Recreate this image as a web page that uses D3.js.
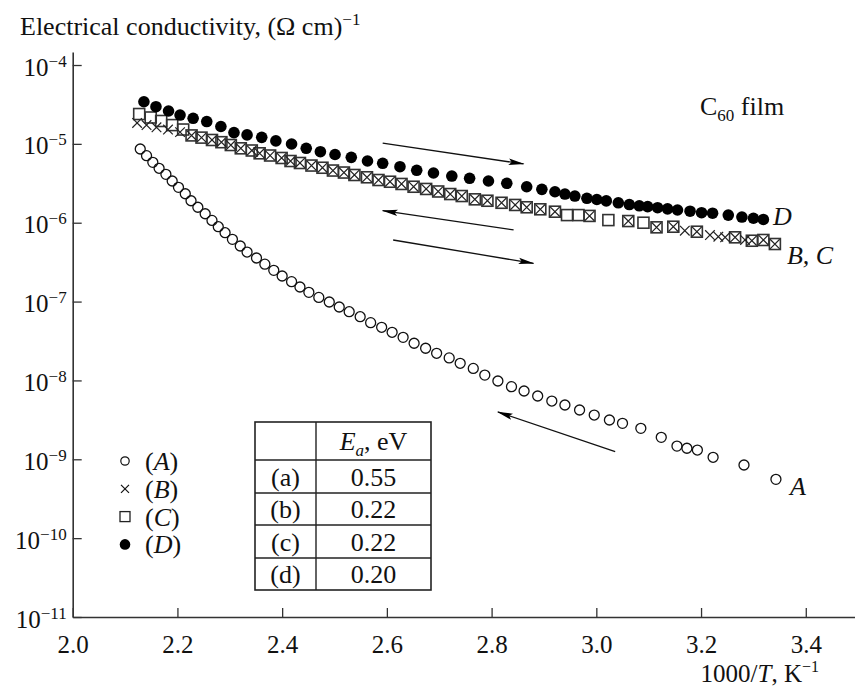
<!DOCTYPE html>
<html>
<head>
<meta charset="utf-8">
<script src="https://cdn.jsdelivr.net/npm/d3@7"></script>
<style>
  body { margin: 0; background: #fff; }
  svg { display: block; font-family: "Liberation Serif", "Times New Roman", serif; }
</style>
</head>
<body>
<div id="chart"></div>
<script>
// series: [1000/T, conductivity]
const seriesA = [
  [2.129, 8.61e-6], [2.141, 7.08e-6], [2.153, 5.83e-6], [2.165, 4.90e-6], [2.178, 4.11e-6],
  [2.190, 3.38e-6], [2.202, 2.81e-6], [2.215, 2.33e-6], [2.226, 1.90e-6], [2.239, 1.57e-6],
  [2.253, 1.30e-6], [2.266, 1.07e-6], [2.278, 8.90e-7], [2.291, 7.47e-7], [2.305, 6.16e-7],
  [2.320, 5.07e-7], [2.333, 4.25e-7], [2.351, 3.57e-7], [2.367, 2.98e-7], [2.384, 2.49e-7],
  [2.400, 2.11e-7], [2.418, 1.79e-7], [2.434, 1.53e-7], [2.451, 1.31e-7], [2.470, 1.13e-7],
  [2.490, 9.88e-8], [2.509, 8.54e-8], [2.528, 7.44e-8], [2.549, 6.43e-8], [2.569, 5.40e-8],
  [2.590, 4.72e-8], [2.610, 4.08e-8], [2.631, 3.52e-8], [2.652, 2.96e-8], [2.674, 2.56e-8],
  [2.695, 2.21e-8], [2.719, 1.93e-8], [2.740, 1.65e-8], [2.765, 1.42e-8], [2.787, 1.17e-8],
  [2.812, 9.84e-9], [2.838, 8.33e-9], [2.862, 7.34e-9], [2.888, 6.35e-9], [2.915, 5.48e-9],
  [2.940, 4.88e-9], [2.968, 4.22e-9], [2.996, 3.64e-9], [3.025, 3.15e-9], [3.050, 2.86e-9],
  [3.085, 2.47e-9], [3.124, 1.90e-9], [3.154, 1.47e-9], [3.173, 1.38e-9], [3.193, 1.31e-9],
  [3.223, 1.06e-9], [3.282, 8.47e-10], [3.343, 5.57e-10]
]
const seriesB = [
  [2.123, 1.84e-5], [2.141, 1.73e-5], [2.160, 1.62e-5], [2.182, 1.52e-5], [2.205, 1.41e-5],
  [2.227, 1.28e-5], [2.246, 1.20e-5], [2.266, 1.12e-5], [2.284, 1.05e-5], [2.302, 9.67e-6],
  [2.321, 8.78e-6], [2.342, 8.24e-6], [2.357, 7.59e-6], [2.377, 7.12e-6], [2.399, 6.62e-6],
  [2.416, 6.06e-6], [2.434, 5.72e-6], [2.456, 5.31e-6], [2.477, 4.98e-6], [2.497, 4.59e-6],
  [2.518, 4.33e-6], [2.538, 4.03e-6], [2.562, 3.77e-6], [2.584, 3.48e-6], [2.606, 3.31e-6],
  [2.628, 3.10e-6], [2.651, 2.86e-6], [2.675, 2.68e-6], [2.698, 2.49e-6], [2.721, 2.31e-6],
  [2.743, 2.18e-6], [2.768, 1.98e-6], [2.792, 1.90e-6], [2.819, 1.79e-6], [2.845, 1.68e-6],
  [2.867, 1.57e-6], [2.893, 1.48e-6], [2.921, 1.38e-6], [2.987, 1.22e-6], [3.061, 1.05e-6],
  [3.115, 8.74e-7], [3.147, 8.90e-7], [3.169, 7.92e-7], [3.192, 7.69e-7], [3.217, 6.98e-7],
  [3.233, 6.65e-7], [3.246, 6.53e-7], [3.265, 6.53e-7], [3.284, 6.04e-7], [3.297, 5.91e-7],
  [3.319, 6.04e-7], [3.341, 5.37e-7]
]
const seriesC = [
  [2.127, 2.39e-5], [2.149, 2.16e-5], [2.169, 1.95e-5], [2.190, 1.73e-5], [2.211, 1.52e-5],
  [2.227, 1.28e-5], [2.246, 1.20e-5], [2.266, 1.12e-5], [2.284, 1.05e-5], [2.302, 9.67e-6],
  [2.321, 8.78e-6], [2.342, 8.24e-6], [2.357, 7.59e-6], [2.377, 7.12e-6], [2.399, 6.62e-6],
  [2.416, 6.06e-6], [2.434, 5.72e-6], [2.456, 5.31e-6], [2.477, 4.98e-6], [2.497, 4.59e-6],
  [2.518, 4.33e-6], [2.538, 4.03e-6], [2.562, 3.77e-6], [2.584, 3.48e-6], [2.606, 3.31e-6],
  [2.628, 3.10e-6], [2.651, 2.86e-6], [2.675, 2.68e-6], [2.698, 2.49e-6], [2.721, 2.31e-6],
  [2.743, 2.18e-6], [2.768, 1.98e-6], [2.792, 1.90e-6], [2.819, 1.79e-6], [2.845, 1.68e-6],
  [2.867, 1.57e-6], [2.893, 1.48e-6], [2.921, 1.38e-6], [2.944, 1.25e-6], [2.966, 1.25e-6],
  [2.987, 1.22e-6], [3.023, 1.08e-6], [3.061, 1.05e-6], [3.090, 1.00e-6], [3.115, 8.74e-7],
  [3.147, 8.90e-7], [3.192, 7.69e-7], [3.265, 6.53e-7], [3.297, 5.91e-7], [3.319, 6.04e-7],
  [3.341, 5.37e-7]
]
const seriesD = [
  [2.136, 3.42e-5], [2.159, 2.96e-5], [2.183, 2.61e-5], [2.205, 2.32e-5], [2.230, 2.11e-5],
  [2.256, 1.92e-5], [2.283, 1.66e-5], [2.308, 1.39e-5], [2.333, 1.30e-5], [2.361, 1.21e-5],
  [2.388, 1.09e-5], [2.418, 9.96e-6], [2.446, 8.78e-6], [2.473, 7.95e-6], [2.501, 7.33e-6],
  [2.532, 6.75e-6], [2.563, 6.06e-6], [2.592, 5.67e-6], [2.625, 5.13e-6], [2.657, 4.62e-6],
  [2.689, 4.27e-6], [2.724, 3.91e-6], [2.758, 3.66e-6], [2.794, 3.38e-6], [2.829, 3.16e-6],
  [2.867, 2.86e-6], [2.896, 2.65e-6], [2.921, 2.47e-6], [2.940, 2.31e-6], [2.959, 2.18e-6],
  [2.982, 2.04e-6], [3.001, 1.97e-6], [3.019, 1.89e-6], [3.042, 1.79e-6], [3.063, 1.70e-6],
  [3.082, 1.64e-6], [3.098, 1.60e-6], [3.117, 1.55e-6], [3.136, 1.50e-6], [3.155, 1.45e-6],
  [3.179, 1.40e-6], [3.201, 1.34e-6], [3.222, 1.32e-6], [3.252, 1.25e-6], [3.278, 1.18e-6],
  [3.300, 1.14e-6], [3.319, 1.10e-6]
]

const xTicks = [2.0, 2.2, 2.4, 2.6, 2.8, 3.0, 3.2, 3.4]
const yExponents = [-4, -5, -6, -7, -8, -9, -10, -11]

const legendKeys = ['A', 'B', 'C', 'D']
const legendMarks = ['open', 'cross', 'square', 'filled']

const tableRows = ['(a)', '(b)', '(c)', '(d)']
const tableValues = ['0.55', '0.22', '0.22', '0.20']

// heating / cooling arrows in data units
const arrows = [
  { from: [2.592, 1.02e-5], to: [2.861, 5.56e-6] },
  { from: [2.842, 8.09e-7], to: [2.592, 1.42e-6] },
  { from: [2.612, 6.04e-7], to: [2.880, 3.05e-7] },
  { from: [3.036, 1.25e-9], to: [2.812, 3.98e-9] }
]

const width = 855
const height = 686

const x = d3.scaleLinear().domain([2.0, 3.494]).range([72.7, 855])
const y = d3.scaleLog().domain([1e-11, Math.pow(10, -3.835)]).range([617, 52])

const svg = d3.select('#chart')
  .append('svg')
  .attr('width', width)
  .attr('height', height)
  .attr('viewBox', `0 0 ${width} ${height}`)

const defs = svg.append('defs')
defs.append('marker')
  .attr('id', 'head')
  .attr('viewBox', '0 0 16 8')
  .attr('refX', 15)
  .attr('refY', 4)
  .attr('markerWidth', 16)
  .attr('markerHeight', 8)
  .attr('markerUnits', 'userSpaceOnUse')
  .attr('orient', 'auto')
  .append('path')
  .attr('d', 'M0,0.8 L16,4 L0,7.2 L3,4 Z')
  .attr('fill', '#000')

// axes
const xAxis = svg.append('g')
  .attr('transform', `translate(0,${y.range()[0]})`)
  .call(d3.axisBottom(x).tickValues(xTicks).tickSizeInner(-9).tickSizeOuter(0).tickFormat(d3.format('.1f')))
xAxis.select('.domain').attr('stroke', '#333').attr('stroke-width', 1.6)
xAxis.selectAll('.tick line').attr('stroke', '#333').attr('stroke-width', 1.3)
xAxis.selectAll('.tick text')
  .attr('y', 36)
  .attr('dy', null)
  .attr('font-size', 25)
  .attr('fill', '#111')
  .attr('font-family', '"Liberation Serif", serif')

const yAxis = svg.append('g')
  .attr('transform', `translate(${x.range()[0]},0)`)
  .call(d3.axisLeft(y).tickValues(yExponents.map(e => Math.pow(10, e))).tickSizeInner(-9).tickSizeOuter(0).tickFormat(() => ''))
yAxis.select('.domain').attr('stroke', '#333').attr('stroke-width', 1.6)
yAxis.selectAll('.tick line').attr('stroke', '#333').attr('stroke-width', 1.3)
yAxis.selectAll('.tick text').remove()
yAxis.selectAll('.tick').each(function (d) {
  const t = d3.select(this).append('text')
    .attr('x', -6)
    .attr('y', 10)
    .attr('text-anchor', 'end')
    .attr('fill', '#111')
    .attr('font-size', 25)
    .attr('font-family', '"Liberation Serif", serif')
  t.append('tspan').text('10')
  t.append('tspan').attr('dy', -9).attr('font-size', 17).text('\u2212' + Math.round(-Math.log10(d)))
})

// title and axis label
const title = svg.append('text')
  .attr('x', 20)
  .attr('y', 35)
  .attr('font-size', 26)
  .attr('fill', '#111')
title.append('tspan').text('Electrical conductivity, (\u03A9 cm)')
title.append('tspan').attr('dy', -10).attr('font-size', 17).text('\u22121')

const xLabel = svg.append('text')
  .attr('x', 819)
  .attr('y', 682)
  .attr('text-anchor', 'end')
  .attr('font-size', 25)
  .attr('fill', '#111')
xLabel.append('tspan').text('1000/')
xLabel.append('tspan').attr('font-style', 'italic').text('T')
xLabel.append('tspan').text(', K')
xLabel.append('tspan').attr('dy', -10).attr('font-size', 16).text('\u22121')

// arrows
svg.append('g').selectAll('line')
  .data(arrows)
  .enter()
  .append('line')
  .attr('x1', d => x(d.from[0]))
  .attr('y1', d => y(d.from[1]))
  .attr('x2', d => x(d.to[0]))
  .attr('y2', d => y(d.to[1]))
  .attr('stroke', '#111')
  .attr('stroke-width', 1.3)
  .attr('marker-end', 'url(#head)')

// markers
const sq = 11
svg.append('g').selectAll('rect')
  .data(seriesC)
  .enter()
  .append('rect')
  .attr('x', d => x(d[0]) - sq / 2)
  .attr('y', d => y(d[1]) - sq / 2)
  .attr('width', sq)
  .attr('height', sq)
  .attr('fill', 'none')
  .attr('stroke', '#333')
  .attr('stroke-width', 1.6)

const cr = 4.8
svg.append('g').selectAll('path')
  .data(seriesB)
  .enter()
  .append('path')
  .attr('d', d => {
    const cx = x(d[0]), cy = y(d[1])
    return `M${cx - cr},${cy - cr}L${cx + cr},${cy + cr}M${cx - cr},${cy + cr}L${cx + cr},${cy - cr}`
  })
  .attr('stroke', '#222')
  .attr('stroke-width', 1.2)

svg.append('g').selectAll('circle')
  .data(seriesD)
  .enter()
  .append('circle')
  .attr('cx', d => x(d[0]))
  .attr('cy', d => y(d[1]))
  .attr('r', 5.8)
  .attr('fill', '#000')

svg.append('g').selectAll('circle')
  .data(seriesA)
  .enter()
  .append('circle')
  .attr('cx', d => x(d[0]))
  .attr('cy', d => y(d[1]))
  .attr('r', 5)
  .attr('fill', 'none')
  .attr('stroke', '#111')
  .attr('stroke-width', 1.3)

// curve labels
const curveLabels = [
  { text: 'D', at: [3.3375, 9.35e-7] },
  { text: 'B, C', at: [3.364, 3.0e-7] },
  { text: 'A', at: [3.370, 3.52e-10] }
]
svg.append('g').selectAll('text')
  .data(curveLabels)
  .enter()
  .append('text')
  .attr('x', d => x(d.at[0]))
  .attr('y', d => y(d.at[1]))
  .attr('font-size', 26)
  .attr('font-style', 'italic')
  .attr('fill', '#111')
  .text(d => d.text)

const film = svg.append('text')
  .attr('x', x(3.198))
  .attr('y', y(2.32e-5))
  .attr('font-size', 26)
  .attr('fill', '#111')
film.append('tspan').text('C')
film.append('tspan').attr('dy', 6).attr('font-size', 17).text('60')
film.append('tspan').attr('dy', -6).text(' film')

// legend
const legend = svg.append('g')
legendKeys.forEach((k, i) => {
  const ly = 461 + i * 27.8
  const mx = 125
  const m = legendMarks[i]
  if (m === 'open') {
    legend.append('circle').attr('cx', mx).attr('cy', ly).attr('r', 4.2)
      .attr('fill', 'none').attr('stroke', '#111').attr('stroke-width', 1.2)
  } else if (m === 'cross') {
    legend.append('path')
      .attr('d', `M${mx - 4},${ly - 4}L${mx + 4},${ly + 4}M${mx - 4},${ly + 4}L${mx + 4},${ly - 4}`)
      .attr('stroke', '#111').attr('stroke-width', 1.2)
  } else if (m === 'square') {
    legend.append('rect').attr('x', mx - 5).attr('y', ly - 5).attr('width', 10).attr('height', 10)
      .attr('fill', 'none').attr('stroke', '#222').attr('stroke-width', 1.3)
  } else {
    legend.append('circle').attr('cx', mx).attr('cy', ly).attr('r', 5.3).attr('fill', '#000')
  }
  const t = legend.append('text').attr('x', 145).attr('y', ly + 9).attr('font-size', 26).attr('fill', '#111')
  t.append('tspan').text('(')
  t.append('tspan').attr('font-style', 'italic').text(k)
  t.append('tspan').text(')')
})

// activation energy table
const colX = [255, 316, 431]
const rowY = [422, 460, 493, 525, 558, 590]
const table = svg.append('g')
table.append('rect')
  .attr('x', colX[0]).attr('y', rowY[0])
  .attr('width', colX[2] - colX[0]).attr('height', rowY[5] - rowY[0])
  .attr('fill', '#fff').attr('stroke', '#222').attr('stroke-width', 1.6)
table.append('line')
  .attr('x1', colX[1]).attr('x2', colX[1]).attr('y1', rowY[0]).attr('y2', rowY[5])
  .attr('stroke', '#222').attr('stroke-width', 1.4)
rowY.slice(1, 5).forEach(ry => {
  table.append('line')
    .attr('x1', colX[0]).attr('x2', colX[2]).attr('y1', ry).attr('y2', ry)
    .attr('stroke', '#222').attr('stroke-width', 1.4)
})
const head = table.append('text')
  .attr('x', (colX[1] + colX[2]) / 2).attr('y', 450)
  .attr('text-anchor', 'middle').attr('font-size', 26).attr('fill', '#111')
head.append('tspan').attr('font-style', 'italic').text('E')
head.append('tspan').attr('font-style', 'italic').attr('font-size', 17).attr('dy', 6).text('a')
head.append('tspan').attr('dy', -6).text(', eV')
tableRows.forEach((r, i) => {
  const by = (rowY[i + 1] + rowY[i + 2]) / 2 + 9
  table.append('text').attr('x', (colX[0] + colX[1]) / 2).attr('y', by)
    .attr('text-anchor', 'middle').attr('font-size', 26).attr('fill', '#111').text(r)
  table.append('text').attr('x', (colX[1] + colX[2]) / 2).attr('y', by)
    .attr('text-anchor', 'middle').attr('font-size', 26).attr('fill', '#111').text(tableValues[i])
})
</script>
</body>
</html>
